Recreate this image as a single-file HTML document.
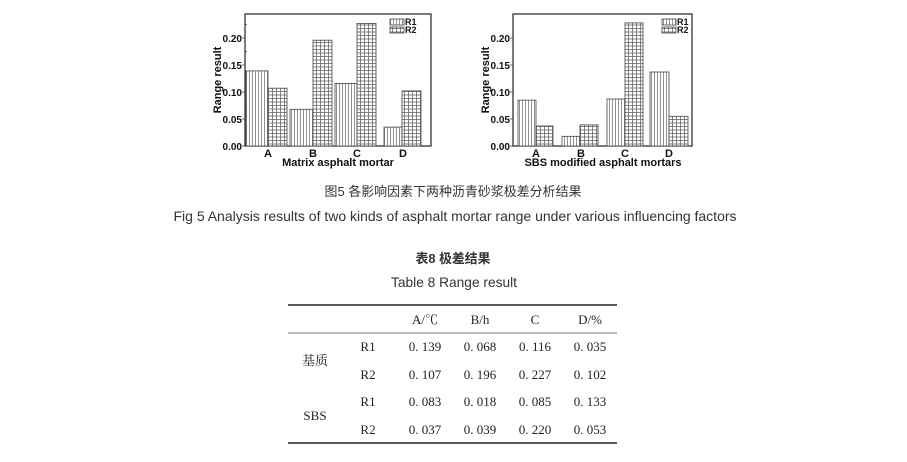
<!DOCTYPE html>
<html><head><meta charset="utf-8"><style>
html,body{margin:0;padding:0;background:#fff;}
svg{display:block;}
</style></head><body>
<svg width="907" height="462" viewBox="0 0 907 462" xmlns="http://www.w3.org/2000/svg">
<defs>
<pattern id="v" width="3" height="3" patternUnits="userSpaceOnUse">
<rect width="3" height="3" fill="#fff"/><line x1="0.5" y1="0" x2="0.5" y2="3" stroke="#777" stroke-width="0.8"/>
</pattern>
<pattern id="g" width="4" height="3.5" patternUnits="userSpaceOnUse">
<rect width="4" height="3.5" fill="#fff"/><line x1="0.5" y1="0" x2="0.5" y2="3.5" stroke="#666" stroke-width="0.8"/><line x1="0" y1="0.5" x2="4" y2="0.5" stroke="#666" stroke-width="0.8"/>
</pattern>
</defs>
<g font-family="Liberation Sans, sans-serif" font-weight="bold" font-size="11" fill="#111">
<!-- Chart 1 -->
<rect x="245" y="14" width="186" height="132" fill="none" stroke="#222" stroke-width="1.2"/>
<g stroke="#444" stroke-width="0.8">
<rect x="246" y="70.9" width="22" height="75.1" fill="url(#v)"/>
<rect x="268" y="88.2" width="19" height="57.8" fill="url(#g)"/>
<rect x="290" y="109.3" width="23" height="36.7" fill="url(#v)"/>
<rect x="313" y="40.2" width="19" height="105.8" fill="url(#g)"/>
<rect x="335" y="83.4" width="22" height="62.6" fill="url(#v)"/>
<rect x="357" y="23.4" width="19" height="122.6" fill="url(#g)"/>
<rect x="384" y="127.1" width="18" height="18.9" fill="url(#v)"/>
<rect x="402" y="90.9" width="19" height="55.1" fill="url(#g)"/>
<rect x="390" y="19" width="14" height="6" fill="url(#v)"/>
<rect x="390" y="27" width="14" height="6" fill="url(#g)"/>
<line x1="242" y1="146" x2="245" y2="146"/><line x1="242" y1="119" x2="245" y2="119"/><line x1="242" y1="92" x2="245" y2="92"/><line x1="242" y1="65" x2="245" y2="65"/><line x1="242" y1="38" x2="245" y2="38"/>
<line x1="245" y1="132.5" x2="247" y2="132.5"/><line x1="245" y1="105.5" x2="247" y2="105.5"/><line x1="245" y1="78.5" x2="247" y2="78.5"/><line x1="245" y1="51.5" x2="247" y2="51.5"/><line x1="245" y1="24.5" x2="247" y2="24.5"/>
</g>
<text x="405" y="25" font-size="9">R1</text><text x="405" y="33" font-size="9">R2</text>
<g text-anchor="end" font-size="10"><text x="242" y="150">0.00</text><text x="242" y="123">0.05</text><text x="242" y="96">0.10</text><text x="242" y="69">0.15</text><text x="242" y="42">0.20</text></g>
<g text-anchor="middle"><text x="268" y="157">A</text><text x="313" y="157">B</text><text x="357" y="157">C</text><text x="403" y="157">D</text>
<text x="338" y="166">Matrix asphalt mortar</text>
<text transform="translate(221,80) rotate(-90)">Range result</text></g>
<!-- Chart 2 -->
<rect x="513" y="14" width="179" height="132" fill="none" stroke="#222" stroke-width="1.2"/>
<g stroke="#444" stroke-width="0.8">
<rect x="518" y="100.1" width="18" height="45.9" fill="url(#v)"/>
<rect x="536" y="126" width="17" height="20" fill="url(#g)"/>
<rect x="562" y="136.3" width="18" height="9.7" fill="url(#v)"/>
<rect x="580" y="124.9" width="18" height="21.1" fill="url(#g)"/>
<rect x="607" y="99" width="18" height="47" fill="url(#v)"/>
<rect x="625" y="22.9" width="18" height="123.1" fill="url(#g)"/>
<rect x="650" y="72" width="19" height="74" fill="url(#v)"/>
<rect x="669" y="116.3" width="19" height="29.7" fill="url(#g)"/>
<rect x="662" y="19" width="14" height="6" fill="url(#v)"/>
<rect x="662" y="27" width="14" height="6" fill="url(#g)"/>
<line x1="510" y1="146" x2="513" y2="146"/><line x1="510" y1="119" x2="513" y2="119"/><line x1="510" y1="92" x2="513" y2="92"/><line x1="510" y1="65" x2="513" y2="65"/><line x1="510" y1="38" x2="513" y2="38"/>
</g>
<text x="677" y="25" font-size="9">R1</text><text x="677" y="33" font-size="9">R2</text>
<g text-anchor="end" font-size="10"><text x="510" y="150">0.00</text><text x="510" y="123">0.05</text><text x="510" y="96">0.10</text><text x="510" y="69">0.15</text><text x="510" y="42">0.20</text></g>
<g text-anchor="middle"><text x="536" y="157">A</text><text x="581" y="157">B</text><text x="625" y="157">C</text><text x="669" y="157">D</text>
<text x="603" y="166">SBS modified asphalt mortars</text>
<text transform="translate(489,80) rotate(-90)">Range result</text></g>
</g>
<!-- captions -->
<g font-family="Liberation Sans, 'Noto Sans CJK SC', sans-serif" fill="#333" text-anchor="middle">
<text x="453" y="196" font-size="13" textLength="257" lengthAdjust="spacingAndGlyphs">图5 各影响因素下两种沥青砂浆极差分析结果</text>
<text x="455" y="221" font-size="14" textLength="563" lengthAdjust="spacingAndGlyphs">Fig 5 Analysis results of two kinds of asphalt mortar range under various influencing factors</text>
<text x="453" y="263" font-size="13" font-weight="bold" textLength="75" lengthAdjust="spacingAndGlyphs">表8 极差结果</text>
<text x="454" y="287" font-size="14" textLength="126" lengthAdjust="spacingAndGlyphs">Table 8 Range result</text>
</g>
<!-- table -->
<line x1="288" y1="305" x2="617" y2="305" stroke="#222" stroke-width="1.5"/>
<line x1="288" y1="333" x2="617" y2="333" stroke="#555" stroke-width="0.7"/>
<line x1="288" y1="443" x2="617" y2="443" stroke="#222" stroke-width="1.5"/>
<g font-family="Liberation Serif, 'Noto Serif CJK SC', serif" font-size="13" fill="#222" text-anchor="middle">
<text x="425" y="324">A/℃</text><text x="480" y="324">B/h</text><text x="535" y="324">C</text><text x="590" y="324">D/%</text>
<text x="315" y="365">基质</text><text x="315" y="420">SBS</text>
<text x="368" y="351">R1</text><text x="368" y="379">R2</text><text x="368" y="406">R1</text><text x="368" y="434">R2</text>
<text x="425" y="351">0. 139</text><text x="480" y="351">0. 068</text><text x="535" y="351">0. 116</text><text x="590" y="351">0. 035</text>
<text x="425" y="379">0. 107</text><text x="480" y="379">0. 196</text><text x="535" y="379">0. 227</text><text x="590" y="379">0. 102</text>
<text x="425" y="406">0. 083</text><text x="480" y="406">0. 018</text><text x="535" y="406">0. 085</text><text x="590" y="406">0. 133</text>
<text x="425" y="434">0. 037</text><text x="480" y="434">0. 039</text><text x="535" y="434">0. 220</text><text x="590" y="434">0. 053</text>
</g>
</svg>
</body></html>
